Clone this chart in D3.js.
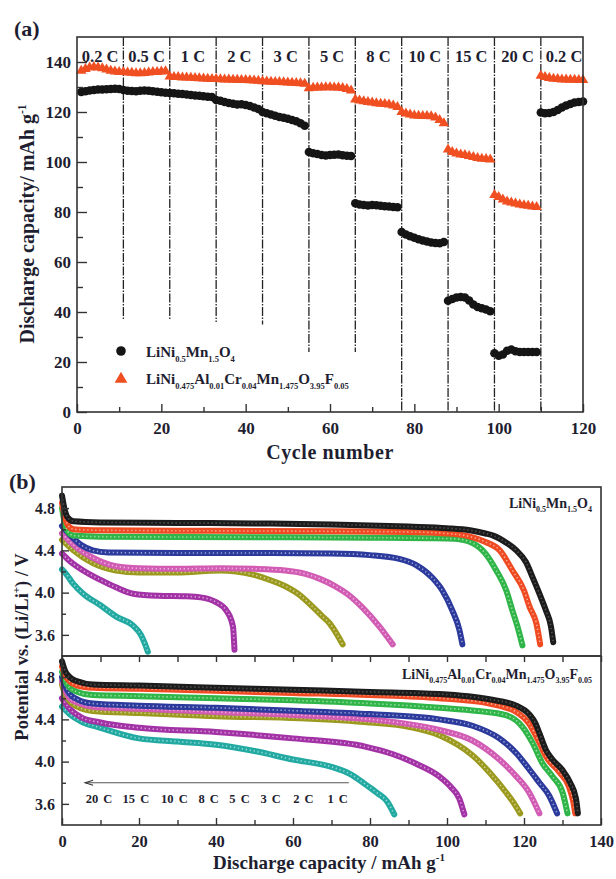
<!DOCTYPE html>
<html>
<head>
<meta charset="utf-8">
<script src="https://cdn.jsdelivr.net/npm/d3@7"></script>
<style>
  body { margin: 0; background: #fff; }
  svg text { font-family: "Liberation Serif", "Times New Roman", serif; font-weight: bold; fill: #1e1e30; }
</style>
</head>
<body>
<script>
// ---------- panel (a): rate capability ----------
const rateLabels = ['0.2 C', '0.5 C', '1 C', '2 C', '3 C', '5 C', '8 C', '10 C', '15 C', '20 C', '0.2 C'];

// discharge capacity per cycle, grouped by rate step (cycle 1..120)
const pristineSteps = [
    [128, 128.3, 128.6, 128.8, 129, 129, 129.1, 129.2, 129.3, 129.2],
    [128.8, 128.5, 128.4, 128.3, 128.5, 128.6, 128.5, 128.3, 128.1, 127.9, 127.7],
    [127.6, 127.5, 127.3, 127.2, 127, 126.8, 126.6, 126.5, 126.3, 126.1, 126],
    [124.8, 124.5, 124, 123.6, 123.3, 123, 123.1, 122.8, 122.4, 121.8, 121.2],
    [120, 119.5, 119, 118.5, 118, 117.7, 117.3, 116.8, 116.3, 115.5, 114.5],
    [104, 103.5, 103.2, 102.8, 102.6, 102.8, 102.9, 103, 102.7, 102.5, 102.4],
    [83.5, 83, 82.8, 82.6, 82.8, 82.7, 82.5, 82.3, 82.2, 82, 81.9],
    [72, 71, 70.3, 69.7, 69.1, 68.6, 68.2, 67.8, 67.6, 67.5, 68],
    [44.5, 45.2, 45.8, 46, 45.8, 44.6, 43, 42, 41.5, 41, 40.3],
    [23.5, 22.5, 23, 24.5, 25, 24.3, 24, 24, 24, 24, 24],
    [119.8, 119.5, 119.6, 120, 120.8, 121.8, 122.6, 123.2, 123.8, 124, 124.2],
];
const dopedSteps = [
    [136.5, 137.2, 137.8, 138, 137.8, 137.5, 137, 136.5, 136.2, 136],
    [136, 135.8, 135.7, 135.5, 135.5, 135.6, 135.8, 136, 136, 136.2, 136.3],
    [134.2, 134, 134, 133.8, 133.8, 133.7, 133.6, 133.5, 133.4, 133.3, 133.2],
    [133.2, 133.1, 133, 133, 132.9, 132.9, 132.8, 132.8, 132.7, 132.6, 132.5],
    [132.3, 132.2, 132.1, 132, 132, 131.9, 131.8, 131.7, 131.6, 131.5, 131.3],
    [129.5, 129.7, 129.8, 129.8, 129.9, 129.9, 129.8, 129.8, 129.6, 129.2, 128.6],
    [125, 124.6, 124.3, 124, 123.8, 123.5, 123.3, 123.2, 123, 122.6, 122],
    [120, 119.4, 119, 118.6, 118.5, 118.4, 118.4, 118.3, 117.8, 116.8, 115.5],
    [105, 104, 103.4, 103, 102.8, 102.4, 102, 101.6, 101.3, 101.2, 101],
    [86.8, 86, 85, 84.2, 83.8, 83.4, 83, 82.7, 82.5, 82.2, 82],
    [134.5, 134, 133.6, 133.3, 133.2, 133, 133, 132.9, 132.9, 132.8, 132.8],
];

// rate-step separators: cycle, and the capacity where the drop line stops
const separatorCycles = [11, 22, 33, 44, 55, 66, 77, 88, 99, 110];
const separatorEnds = [37, 37, 36, 35, 24, 24, 0, 0, 0, 0];

const cycleTicks = [0, 20, 40, 60, 80, 100, 120];
const cycleMinor = [10, 30, 50, 70, 90, 110];
const capTicks = [0, 20, 40, 60, 80, 100, 120, 140];
const capMinor = [10, 30, 50, 70, 90, 110, 130];

// ---------- panel (b): discharge curves ----------
const curveRates = ['1 C', '2 C', '3 C', '5 C', '8 C', '10 C', '15 C', '20 C'];
const curveColors = ['#1c1c1c', '#f04a22', '#2fb548', '#2b3a9c', '#d25bb4', '#9b9a1e', '#a332a6', '#22aaa2'];

// [capacity mAh/g, potential V]
const pristineCurves = [
    [[0, 4.92], [0.6, 4.8], [1.5, 4.71], [3, 4.675], [10, 4.665], [30, 4.66], [50, 4.655], [70, 4.645], [90, 4.625], [100, 4.61], [106, 4.59], [110, 4.56], [112, 4.54], [115.5, 4.47], [118, 4.4], [120.5, 4.29], [122.3, 4.14], [124, 3.99], [125.7, 3.83], [127, 3.68], [127.6, 3.53]],
    [[0, 4.85], [0.6, 4.74], [1.5, 4.64], [3, 4.6], [10, 4.59], [40, 4.585], [70, 4.58], [90, 4.575], [100, 4.56], [106, 4.53], [110, 4.48], [113.7, 4.4], [117, 4.21], [120, 4.02], [121.5, 3.86], [123.2, 3.71], [124.2, 3.51]],
    [[0, 4.8], [0.6, 4.68], [1.5, 4.58], [3, 4.54], [10, 4.53], [50, 4.525], [80, 4.52], [95, 4.515], [102, 4.51], [106.6, 4.47], [110, 4.37], [112.8, 4.21], [115.4, 4.02], [117, 3.83], [118.3, 3.68], [119.6, 3.5]],
    [[0, 4.63], [2, 4.55], [5, 4.45], [8, 4.4], [12, 4.38], [30, 4.375], [50, 4.375], [70, 4.37], [80, 4.355], [87.6, 4.32], [92, 4.26], [96.2, 4.14], [98.8, 4.02], [101.4, 3.83], [103.2, 3.65], [104, 3.51]],
    [[0, 4.56], [3, 4.45], [8, 4.33], [14, 4.25], [20, 4.23], [30, 4.225], [41, 4.23], [50, 4.225], [58, 4.21], [63, 4.18], [67, 4.13], [71, 4.06], [74, 3.99], [78, 3.86], [82.4, 3.68], [84.5, 3.58], [85.9, 3.51]],
    [[0, 4.5], [3, 4.4], [8, 4.28], [14, 4.21], [20, 4.19], [30, 4.19], [41, 4.21], [49.6, 4.17], [54, 4.12], [58, 4.06], [62, 3.97], [65, 3.87], [67.5, 3.78], [69.5, 3.71], [71.5, 3.6], [72.9, 3.51]],
    [[0, 4.37], [2, 4.3], [5.5, 4.21], [10, 4.12], [14, 4.05], [18.5, 3.99], [25, 3.97], [32, 3.965], [36, 3.955], [40, 3.91], [42.7, 3.83], [44.4, 3.68], [44.8, 3.46]],
    [[0, 4.22], [1, 4.18], [3, 4.08], [5.5, 3.99], [10, 3.88], [14.2, 3.77], [18.4, 3.69], [20.5, 3.6], [21.5, 3.52], [22.3, 3.44]],
];
const dopedCurves = [
    [[0, 4.95], [0.8, 4.86], [2, 4.8], [4, 4.76], [8, 4.73], [20, 4.72], [40, 4.7], [60, 4.68], [80, 4.66], [98, 4.64], [111, 4.59], [118, 4.53], [121.3, 4.45], [123, 4.36], [124, 4.27], [125.7, 4.11], [127.4, 4.02], [130, 3.92], [132, 3.8], [133.5, 3.65], [134, 3.51]],
    [[0, 4.9], [0.8, 4.82], [2, 4.76], [4, 4.72], [8, 4.7], [20, 4.69], [40, 4.67], [60, 4.65], [80, 4.63], [98, 4.6], [111, 4.55], [118, 4.47], [121.3, 4.36], [124, 4.18], [125.7, 4.05], [129.2, 3.9], [131.6, 3.77], [132.8, 3.62], [133.3, 3.51]],
    [[0, 4.85], [0.8, 4.77], [2, 4.7], [4, 4.66], [8, 4.63], [20, 4.62], [40, 4.6], [60, 4.58], [80, 4.55], [98, 4.51], [108, 4.48], [115.3, 4.44], [119.6, 4.33], [122.2, 4.18], [124.7, 3.99], [127.4, 3.86], [130, 3.71], [131.3, 3.51]],
    [[0, 4.8], [0.8, 4.72], [2, 4.64], [4, 4.59], [8, 4.55], [20, 4.53], [40, 4.51], [61.7, 4.48], [80, 4.45], [98, 4.4], [106.6, 4.34], [113.6, 4.22], [118, 4.08], [121.3, 3.93], [124, 3.8], [126.5, 3.68], [128.6, 3.51]],
    [[0, 4.76], [0.8, 4.68], [2, 4.6], [4, 4.56], [8, 4.52], [20, 4.5], [40, 4.47], [61.7, 4.44], [80, 4.4], [98, 4.3], [106.6, 4.2], [113.6, 4.02], [118, 3.86], [121.3, 3.71], [124, 3.51]],
    [[0, 4.73], [0.8, 4.64], [2, 4.57], [4, 4.52], [8, 4.48], [20, 4.46], [40, 4.43], [61.7, 4.41], [80, 4.37], [90, 4.33], [98, 4.25], [106.6, 4.06], [111, 3.9], [115.3, 3.71], [117.5, 3.6], [119, 3.51]],
    [[0, 4.6], [2, 4.5], [5, 4.42], [10, 4.37], [20, 4.32], [40, 4.28], [60, 4.22], [79, 4.14], [86, 4.07], [92, 3.98], [98, 3.86], [101, 3.76], [103.2, 3.65], [104.5, 3.5]],
    [[0, 4.52], [2, 4.45], [5, 4.38], [10, 4.32], [20, 4.22], [30, 4.19], [40, 4.16], [50, 4.1], [60, 4.02], [70, 3.95], [75, 3.88], [79, 3.78], [82, 3.7], [84.5, 3.62], [86.3, 3.5]],
];

const arrowLabels = ['20 C', '15 C', '10 C', '8 C', '5 C', '3 C', '2 C', '1 C'];
const arrowLabelCap = [9.6, 19.2, 29.2, 38.1, 46.1, 54.2, 62.7, 71.6];

const dischargeTicks = [0, 20, 40, 60, 80, 100, 120, 140];
const dischargeMinor = [10, 30, 50, 70, 90, 110, 130];
const voltTicks = [3.6, 4.0, 4.4, 4.8];
const voltMinor = [3.8, 4.2, 4.6];

const pristineFormula = [['LiNi'], ['0.5', 'sub'], ['Mn'], ['1.5', 'sub'], ['O'], ['4', 'sub']];
const dopedFormula = [['LiNi'], ['0.475', 'sub'], ['Al'], ['0.01', 'sub'], ['Cr'], ['0.04', 'sub'],
    ['Mn'], ['1.475', 'sub'], ['O'], ['3.95', 'sub'], ['F'], ['0.05', 'sub']];

// text with sub / superscripts
function richText(g, x, y, parts, size, small, anchor) {
    const t = g.append('text')
        .attr('x', x).attr('y', y)
        .attr('font-size', size)
        .attr('text-anchor', anchor || 'start');
    let off = 0;
    parts.forEach(([s, kind]) => {
        const target = kind === 'sub' ? size * 0.32 : kind === 'sup' ? -size * 0.42 : 0;
        t.append('tspan')
            .attr('dy', target - off)
            .attr('font-size', kind ? small : size)
            .text(s);
        off = target;
    });
    return t;
}

function styleAxis(g) {
    g.select('.domain').remove();
    g.selectAll('.tick line').attr('stroke', '#333').attr('stroke-width', 1.4);
    g.selectAll('.tick text').attr('fill', '#1e1e30');
}

const svg = d3.select('body').append('svg')
    .attr('width', 616)
    .attr('height', 879);

// ================= panel (a) =================
const xA = d3.scaleLinear().domain([0, 120]).range([77, 583]);
const yA = d3.scaleLinear().domain([0, 150]).range([412, 37]);

// separators between rate steps
svg.append('g')
    .selectAll('line')
    .data(separatorCycles)
    .join('line')
    .attr('x1', (d) => xA(d))
    .attr('x2', (d) => xA(d))
    .attr('y1', yA(150))
    .attr('y2', (d, i) => yA(separatorEnds[i]))
    .attr('stroke', '#222')
    .attr('stroke-width', 1.3)
    .attr('stroke-dasharray', '9,1.5,1.5,1.5');

// flatten steps into [cycle, capacity]
function toPoints(steps) {
    const pts = [];
    let cycle = 1;
    steps.forEach((step) => step.forEach((v) => pts.push([cycle++, v])));
    return pts;
}
const pristinePts = toPoints(pristineSteps);
const dopedPts = toPoints(dopedSteps);

svg.append('g')
    .selectAll('path')
    .data(dopedPts)
    .join('path')
    .attr('transform', (d) => `translate(${xA(d[0])},${yA(d[1])})`)
    .attr('d', d3.symbol(d3.symbolTriangle, 48))
    .attr('fill', '#f04f22');

svg.append('g')
    .selectAll('circle')
    .data(pristinePts)
    .join('circle')
    .attr('cx', (d) => xA(d[0]))
    .attr('cy', (d) => yA(d[1]))
    .attr('r', 4.3)
    .attr('fill', '#151515');

// rate labels
svg.append('g')
    .selectAll('text')
    .data(rateLabels)
    .join('text')
    .attr('x', (d, i) => xA(i * 11 + 5.5))
    .attr('y', 62)
    .attr('text-anchor', 'middle')
    .attr('font-size', 16.5)
    .text((d) => d);

// axes (ticks point inward)
svg.append('g')
    .attr('transform', 'translate(0,412)')
    .call(d3.axisBottom(xA).tickValues(cycleTicks).tickSize(-8).tickPadding(10))
    .call(styleAxis)
    .selectAll('text').attr('font-size', 17);
svg.append('g')
    .attr('transform', 'translate(0,412)')
    .call(d3.axisBottom(xA).tickValues(cycleMinor).tickSize(-5).tickFormat(''))
    .call(styleAxis);
svg.append('g')
    .attr('transform', 'translate(77,0)')
    .call(d3.axisLeft(yA).tickValues(capTicks).tickSize(-10).tickPadding(6))
    .call(styleAxis)
    .selectAll('text').attr('font-size', 17);
svg.append('g')
    .attr('transform', 'translate(77,0)')
    .call(d3.axisLeft(yA).tickValues(capMinor).tickSize(-6).tickFormat(''))
    .call(styleAxis);

svg.append('rect')
    .attr('x', xA(0)).attr('y', yA(150))
    .attr('width', xA(120) - xA(0)).attr('height', yA(0) - yA(150))
    .attr('fill', 'none').attr('stroke', '#333').attr('stroke-width', 1.6);

// legend
svg.append('circle').attr('cx', 121).attr('cy', 351).attr('r', 4.8).attr('fill', '#151515');
richText(svg, 146, 357, pristineFormula, 15, 8.5);
svg.append('path')
    .attr('transform', 'translate(121,379)')
    .attr('d', d3.symbol(d3.symbolTriangle, 70))
    .attr('fill', '#f04f22');
richText(svg, 146, 384, dopedFormula, 15, 8.5);

// titles
svg.append('text').attr('x', 14).attr('y', 36).attr('font-size', 22).text('(a)');
svg.append('text')
    .attr('x', 330).attr('y', 459)
    .attr('text-anchor', 'middle')
    .attr('font-size', 20)
    .attr('letter-spacing', 0.6)
    .text('Cycle number');
richText(svg.append('g').attr('transform', 'translate(34,224) rotate(-90)'),
    0, 0, [['Discharge capacity/ mAh g'], ['-1', 'sup']], 20, 11.5, 'middle');

// ================= panel (b) =================
const xB = d3.scaleLinear().domain([0, 140]).range([62, 601]);
const yTop = d3.scaleLinear().domain([3.4, 5.0]).range([656, 487]);
const yBot = d3.scaleLinear().domain([3.4, 5.0]).range([825, 656]);

function drawCurves(curves, yS) {
    const line = d3.line()
        .x((d) => xB(d[0]))
        .y((d) => yS(d[1]))
        .curve(d3.curveMonotoneX);
    const g = svg.append('g');
    // draw fastest rate first so 1 C ends up on top
    const order = d3.range(curves.length).reverse();
    order.forEach((i) => {
        g.append('path')
            .attr('d', line(curves[i]))
            .attr('fill', 'none')
            .attr('stroke', curveColors[i])
            .attr('stroke-width', 6)
            .attr('stroke-linecap', 'round')
            .attr('stroke-linejoin', 'round');
        // open-circle look
        g.append('path')
            .attr('d', line(curves[i]))
            .attr('fill', 'none')
            .attr('stroke', '#fff')
            .attr('stroke-width', 1.6)
            .attr('stroke-dasharray', '1.3,2.7')
            .attr('opacity', i === 0 ? 0.25 : 0.55);
    });
}
drawCurves(pristineCurves, yTop);
drawCurves(dopedCurves, yBot);

function voltAxes(yS) {
    svg.append('g')
        .attr('transform', 'translate(62,0)')
        .call(d3.axisLeft(yS).tickValues(voltTicks).tickSize(-7).tickPadding(7).tickFormat(d3.format('.1f')))
        .call(styleAxis)
        .selectAll('text').attr('font-size', 16);
    svg.append('g')
        .attr('transform', 'translate(62,0)')
        .call(d3.axisLeft(yS).tickValues(voltMinor).tickSize(-4).tickFormat(''))
        .call(styleAxis);
}
voltAxes(yTop);
voltAxes(yBot);

// ticks on the divider (pointing down) and on the bottom (pointing up)
svg.append('g')
    .attr('transform', 'translate(0,656)')
    .call(d3.axisBottom(xB).tickValues(dischargeTicks.concat(dischargeMinor)).tickSize(6).tickFormat(''))
    .call(styleAxis);
svg.append('g')
    .attr('transform', 'translate(0,825)')
    .call(d3.axisBottom(xB).tickValues(dischargeTicks).tickSize(-7).tickPadding(10))
    .call(styleAxis)
    .selectAll('text').attr('font-size', 16.5);
svg.append('g')
    .attr('transform', 'translate(0,825)')
    .call(d3.axisBottom(xB).tickValues(dischargeMinor).tickSize(-5).tickFormat(''))
    .call(styleAxis);

[yTop, yBot].forEach((yS) => {
    svg.append('rect')
        .attr('x', xB(0)).attr('y', yS(5.0))
        .attr('width', xB(140) - xB(0)).attr('height', yS(3.4) - yS(5.0))
        .attr('fill', 'none').attr('stroke', '#333').attr('stroke-width', 1.6);
});

// rate arrow
const arrowY = yBot(3.8);
svg.append('line')
    .attr('x1', xB(6)).attr('x2', xB(74.5))
    .attr('y1', arrowY).attr('y2', arrowY)
    .attr('stroke', '#555').attr('stroke-width', 1.1);
svg.append('path')
    .attr('d', `M${xB(6) + 8},${arrowY - 2.5}L${xB(6)},${arrowY}L${xB(6) + 8},${arrowY + 2.5}`)
    .attr('fill', 'none').attr('stroke', '#333').attr('stroke-width', 1.1);
svg.append('g')
    .selectAll('text')
    .data(arrowLabels)
    .join('text')
    .attr('x', (d, i) => xB(arrowLabelCap[i]))
    .attr('y', arrowY + 20)
    .attr('text-anchor', 'middle')
    .attr('font-size', 12.5)
    .attr('word-spacing', 2)
    .text((d) => d);

richText(svg, 592, 508, pristineFormula, 14, 8, 'end');
richText(svg, 592, 679, dopedFormula, 14, 8, 'end');

svg.append('text').attr('x', 9).attr('y', 489).attr('font-size', 22).text('(b)');
richText(svg, 329, 869, [['Discharge capacity / mAh g'], ['-1', 'sup']], 19, 11, 'middle');
richText(svg.append('g').attr('transform', 'translate(28,647) rotate(-90)'),
    0, 0, [['Potential vs. (Li/Li'], ['+', 'sup'], [') / V']], 18.5, 11, 'middle');
</script>
</body>
</html>
